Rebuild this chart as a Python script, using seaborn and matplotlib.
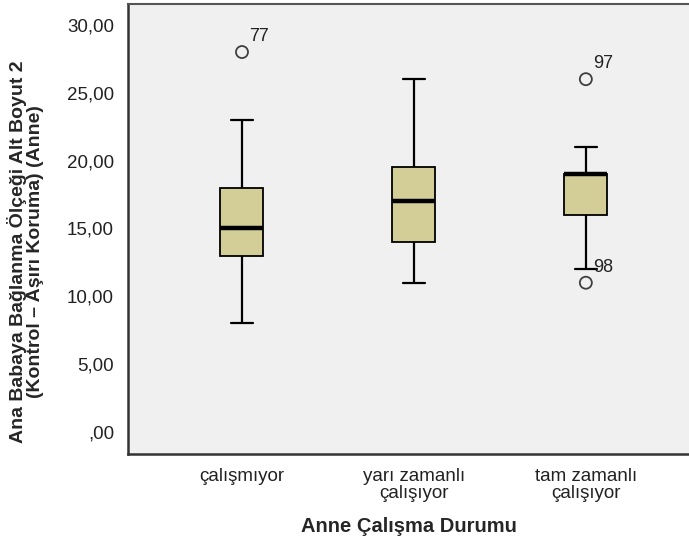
import numpy as np
import pandas as pd
import matplotlib
matplotlib.use("Agg")
import matplotlib.pyplot as plt
from matplotlib.ticker import FuncFormatter
import seaborn as sns

# ---------- data ----------
groups = ["çalışmıyor", "yarı zamanlı\nçalışıyor", "tam zamanlı\nçalışıyor"]
whisker_low = [8, 11, 12]
q1 = [13, 14, 16]
median = [15, 17, 19]
q3 = [18, 19.5, 19]
whisker_high = [23, 26, 21]

outlier_group = ["çalışmıyor", "tam zamanlı\nçalışıyor", "tam zamanlı\nçalışıyor"]
outlier_value = [28, 26, 11]
outlier_case = ["77", "97", "98"]

# five-number summary per group -> long table (whis=(0,100) keeps the whiskers at min/max)
rows = []
for g, lo, a, m, b, hi in zip(groups, whisker_low, q1, median, q3, whisker_high):
    for v in (lo, a, m, b, hi):
        rows.append({"grup": g, "deger": v})
df = pd.DataFrame(rows)
out = pd.DataFrame({"grup": outlier_group, "deger": outlier_value, "vaka": outlier_case})

# ---------- plot ----------
sns.set_style("white")
plt.rcParams["font.family"] = ["Liberation Sans", "DejaVu Sans"]

fig = plt.figure(figsize=(6.89, 5.48), dpi=100)
ax = fig.add_axes([128 / 689, 94 / 548, 561 / 689, 450 / 548])
ax.set_facecolor("#f0f0f0")

sns.boxplot(
    data=df, x="grup", y="deger", order=groups, ax=ax,
    whis=(0, 100), width=0.25, color="#d3ce97", linecolor="black",
    linewidth=1.3, showfliers=False, saturation=1,
    medianprops=dict(linewidth=3.2, color="black"),
    whiskerprops=dict(linewidth=1.6), capprops=dict(linewidth=1.6),
)

sns.scatterplot(
    data=out, x="grup", y="deger", ax=ax, s=75, marker="o",
    facecolor="none", edgecolor="#404040", linewidth=1.3, zorder=5,
)
for g, v, c in zip(outlier_group, outlier_value, outlier_case):
    ax.annotate(c, (groups.index(g), v), xytext=(5, 5), textcoords="offset points",
                ha="left", va="bottom", fontsize=13, color="#222222")

ax.set_xlim(-0.663, 2.6)
ax.set_ylim(-1.62, 31.54)
ax.set_yticks([0, 5, 10, 15, 20, 25, 30])
ax.yaxis.set_major_formatter(FuncFormatter(
    lambda v, p: ("%.2f" % v).replace(".", ",").lstrip("0") if v == 0 else ("%.2f" % v).replace(".", ",")))

ax.tick_params(axis="y", direction="out", length=9, width=1.3, labelsize=13.5, pad=1)
ax.tick_params(axis="x", direction="out", length=5, width=1.2, labelsize=13.5, pad=5)
ax.tick_params(axis="both", labelcolor="#222222", color="#222222")
for lab in ax.get_xticklabels():
    lab.set_linespacing(1.0)

for side in ["left", "bottom"]:
    ax.spines[side].set_color("#333333")
    ax.spines[side].set_linewidth(1.8)
ax.spines["top"].set_color("#555555")
ax.spines["top"].set_linewidth(1.5)
ax.spines["right"].set_visible(False)

ax.set_xlabel("Anne Çalışma Durumu", fontsize=14.5, fontweight="bold", labelpad=11)
ax.set_ylabel("Ana Babaya Bağlanma Ölçeği Alt Boyut 2\n(Kontrol – Aşırı Koruma) (Anne)",
              fontsize=14, fontweight="bold", linespacing=0.95)
ax.yaxis.set_label_coords(-0.15, 0.45)

fig.savefig("out.png", dpi=100, facecolor="white")
